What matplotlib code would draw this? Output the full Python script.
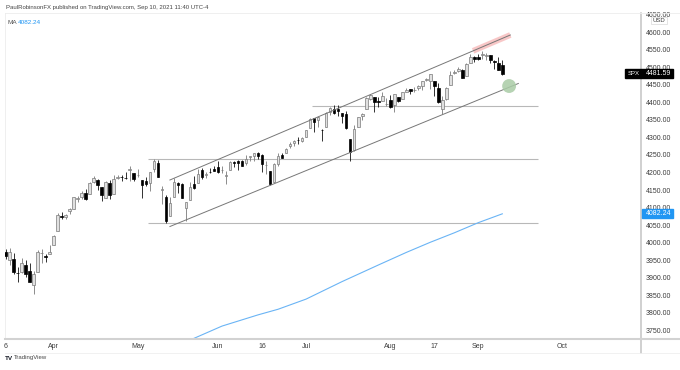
import numpy as np
import pandas as pd
import matplotlib
matplotlib.use("Agg")
import matplotlib.pyplot as plt
import matplotlib.transforms as mtransforms
from matplotlib.patches import Rectangle

plt.rcParams['font.family'] = ['Liberation Sans', 'DejaVu Sans']

# daily sessions, Mar 16 - Sep 10 2021 (market holidays skipped)
holidays = ['2021-04-02', '2021-05-31', '2021-07-05', '2021-09-06']
all_days = pd.bdate_range('2021-03-16', '2021-10-29', freq='C', holidays=holidays)

# SPX daily OHLC
opens = [3973.59, 3949.57, 3953.50, 3913.14, 3916.48, 3937.60, 3919.93, 3879.34, 3917.12, 3969.31, 3963.34, 3967.25,
         3992.78, 4034.44, 4075.57, 4074.29, 4089.95, 4096.11, 4124.71, 4130.10, 4141.58, 4139.76, 4174.14, 4179.80,
         4159.18, 4128.42, 4170.46, 4138.78, 4185.03, 4188.25, 4185.14, 4206.14, 4198.10,
         4191.98, 4179.04, 4177.06, 4169.14, 4210.34, 4228.29, 4150.34, 4130.55, 4074.99, 4129.58, 4169.92, 4165.94,
         4098.45, 4121.97, 4168.61, 4170.16, 4205.94, 4191.59, 4201.94, 4210.77,
         4216.52, 4206.82, 4191.43, 4206.05, 4229.34, 4233.81, 4232.99, 4228.56, 4242.90, 4248.31, 4255.28, 4248.87,
         4220.37, 4204.78, 4173.40, 4224.61, 4249.27, 4256.97, 4274.45, 4284.90, 4293.21, 4290.65,
         4300.73, 4326.60, 4356.46, 4351.01, 4321.07, 4329.38, 4372.41, 4381.07, 4380.11, 4369.02, 4367.43, 4296.40,
         4265.11, 4331.13, 4361.27, 4381.20, 4409.58, 4416.38, 4402.95, 4403.59, 4395.12,
         4406.86, 4392.74, 4415.95, 4408.86, 4429.07, 4437.77, 4435.79, 4442.18, 4446.08, 4464.84, 4461.65, 4462.12,
         4440.94, 4382.44, 4410.56, 4450.29, 4484.40, 4490.45, 4493.75, 4474.10, 4513.76, 4529.75,
         4528.80, 4534.48, 4532.42, 4535.38, 4518.09, 4513.02, 4506.92]
highs = [3981.04, 3983.87, 3969.62, 3930.12, 3955.31, 3949.13, 3942.08, 3919.54, 3978.19, 3981.83, 3968.01, 3994.41,
         4020.63, 4083.42, 4086.23, 4083.13, 4098.19, 4129.48, 4131.76, 4148.00, 4151.69, 4173.49, 4191.31, 4180.81,
         4159.18, 4175.02, 4179.57, 4194.17, 4194.19, 4193.35, 4201.53, 4218.78, 4198.10,
         4209.39, 4179.04, 4187.72, 4202.70, 4238.04, 4236.39, 4162.04, 4134.73, 4131.58, 4183.13, 4171.92, 4169.15,
         4116.93, 4172.80, 4188.72, 4209.52, 4213.42, 4202.61, 4213.38, 4218.36,
         4234.12, 4217.37, 4204.39, 4233.45, 4232.34, 4236.74, 4237.09, 4249.74, 4248.38, 4255.59, 4257.16, 4251.89,
         4232.29, 4204.78, 4226.24, 4255.84, 4256.60, 4271.28, 4286.12, 4292.14, 4300.52, 4302.43,
         4320.66, 4355.43, 4356.46, 4361.88, 4324.81, 4371.60, 4386.68, 4392.37, 4393.68, 4369.02, 4375.09, 4296.40,
         4336.84, 4359.70, 4369.87, 4415.18, 4422.73, 4416.38, 4415.47, 4429.97, 4412.25,
         4422.18, 4423.79, 4416.17, 4429.76, 4440.82, 4439.39, 4445.21, 4449.44, 4461.77, 4468.37, 4480.26, 4462.12,
         4454.32, 4418.61, 4444.35, 4489.88, 4492.81, 4501.71, 4495.90, 4513.33, 4537.36, 4531.39,
         4537.11, 4545.85, 4541.45, 4535.38, 4521.79, 4529.90, 4520.47]
lows = [3953.44, 3935.74, 3910.86, 3886.75, 3914.16, 3901.57, 3888.96, 3853.50, 3917.12, 3943.25, 3944.35, 3966.98,
        3992.78, 4034.44, 4068.14, 4068.31, 4082.54, 4095.51, 4114.82, 4124.43, 4120.87, 4139.76, 4170.75, 4150.47,
        4118.38, 4126.35, 4123.69, 4138.78, 4182.36, 4176.22, 4181.78, 4176.81, 4174.85,
        4188.03, 4128.59, 4160.94, 4147.33, 4201.64, 4188.13, 4111.53, 4056.88, 4074.99, 4129.58, 4142.69, 4125.99,
        4061.41, 4121.97, 4151.72, 4170.16, 4182.52, 4184.11, 4197.78, 4203.57,
        4197.59, 4198.27, 4167.93, 4206.05, 4215.66, 4208.41, 4218.74, 4220.34, 4232.25, 4234.07, 4238.35, 4202.45,
        4196.05, 4164.40, 4173.40, 4217.27, 4241.43, 4256.97, 4271.16, 4274.67, 4282.04, 4287.96,
        4300.73, 4326.60, 4314.37, 4329.79, 4289.52, 4329.38, 4364.03, 4366.92, 4362.36, 4340.70, 4323.97, 4233.13,
        4262.05, 4331.13, 4350.06, 4381.20, 4405.45, 4372.51, 4387.01, 4403.59, 4389.65,
        4384.81, 4373.00, 4400.23, 4408.86, 4429.07, 4424.74, 4430.03, 4436.42, 4435.96, 4460.82, 4437.66, 4417.83,
        4397.59, 4367.73, 4406.80, 4450.29, 4482.28, 4485.66, 4468.99, 4474.10, 4513.76, 4515.80,
        4522.02, 4524.66, 4521.65, 4513.00, 4493.95, 4492.07, 4479.50]
closes = [3962.71, 3974.12, 3915.46, 3913.10, 3940.59, 3910.52, 3889.14, 3909.52, 3974.54, 3971.09, 3958.55, 3972.89,
          4019.87, 4077.91, 4073.94, 4079.95, 4097.17, 4128.80, 4127.99, 4141.59, 4124.66, 4170.42, 4185.47, 4163.26,
          4134.94, 4173.42, 4134.98, 4180.17, 4187.62, 4186.72, 4183.18, 4211.47, 4181.17,
          4192.66, 4164.66, 4167.59, 4201.62, 4232.60, 4188.43, 4152.10, 4063.04, 4112.50, 4173.85, 4163.29, 4127.83,
          4115.68, 4159.12, 4155.86, 4197.05, 4188.13, 4195.99, 4200.88, 4204.11,
          4202.04, 4208.12, 4192.85, 4229.89, 4226.52, 4227.26, 4219.55, 4239.18, 4247.44, 4255.15, 4246.59, 4223.70,
          4221.86, 4166.45, 4224.79, 4246.44, 4241.84, 4266.49, 4280.70, 4290.61, 4291.80, 4297.50,
          4319.94, 4352.34, 4343.54, 4358.13, 4320.82, 4369.55, 4384.63, 4369.21, 4374.30, 4360.03, 4327.16, 4258.49,
          4323.06, 4358.69, 4367.48, 4411.79, 4422.30, 4401.46, 4400.64, 4419.15, 4395.26,
          4387.16, 4423.15, 4402.66, 4429.10, 4436.52, 4432.35, 4436.75, 4447.70, 4460.83, 4468.00, 4479.71, 4448.08,
          4400.27, 4405.80, 4441.67, 4479.53, 4486.23, 4496.19, 4470.00, 4509.37, 4528.79, 4522.68,
          4524.09, 4536.95, 4535.43, 4520.03, 4514.07, 4493.28, 4481.59]

# moving average (session date -> value)
ma_dates = ['2021-05-12', '2021-05-21', '2021-06-02', '2021-06-15', '2021-06-22', '2021-07-01', '2021-07-15',
            '2021-07-28', '2021-08-06', '2021-08-16', '2021-08-24', '2021-09-01', '2021-09-10']
ma_values = [3698, 3727, 3762, 3794, 3810, 3839, 3889, 3936, 3972, 4001, 4028, 4057, 4082.24]

# drawn levels / channel (date, price)
h_levels = [4390, 4239, 4055]
h_starts = ['2021-07-02', '2021-05-05', '2021-05-05']
h_end = '2021-09-23'
chan_upper = [('2021-05-13', 4178.7), ('2021-09-14', 4592.3)]
chan_lower = [('2021-05-13', 4046.0), ('2021-09-16', 4454.0)]

tick_dates = ['2021-03-16', '2021-04-01', '2021-05-03', '2021-06-01', '2021-06-16', '2021-07-01',
              '2021-08-02', '2021-08-17', '2021-09-01', '2021-10-01']
tick_labels = ['6', 'Apr', 'May', 'Jun', '16', 'Jul', 'Aug', '17', 'Sep', 'Oct']
price_ticks = list(range(3750, 4651, 50))

pos = {d.strftime('%Y-%m-%d'): i for i, d in enumerate(all_days)}

o = np.array(opens)
h = np.array(highs)
l = np.array(lows)
c = np.array(closes)
x = np.arange(len(c))
up = c >= o

W, H = 680, 370
fig = plt.figure(figsize=(W / 100, H / 100), dpi=100)
ax = fig.add_axes([5 / W, 1 - 339 / H, (641 - 5) / W, (339 - 13) / H])

# candles
wick_col = np.where(up, '#7a7a7a', '#111111')
ax.vlines(x, l, h, colors=wick_col, lw=0.6, zorder=2)
body_h = np.maximum(np.abs(c - o), 0.9)
ax.bar(x, body_h, bottom=np.minimum(o, c), width=0.68,
       color=np.where(up, '#e0e0e0', '#000000'),
       edgecolor=np.where(up, '#7a7a7a', '#000000'), linewidth=0.5, zorder=3)

# moving average
ax.plot([pos[d] for d in ma_dates], ma_values, color='#6ab4f5', lw=0.8, zorder=2)

# horizontal levels
for lev, st in zip(h_levels, h_starts):
    ax.hlines(lev, pos[st] + 0.5, pos[h_end], color='#b8b8b8', lw=0.8, zorder=1)

# channel
ux = [pos[d] for d, _ in chan_upper]
uy = [p for _, p in chan_upper]
lx = [pos[d] for d, _ in chan_lower]
ly = [p for _, p in chan_lower]
ax.plot(ux, uy, color='#777777', lw=0.7, zorder=4)
ax.plot(lx, ly, color='#777777', lw=0.7, zorder=4)

# highlight on upper channel + circle on lower channel
slope = (uy[1] - uy[0]) / (ux[1] - ux[0])
bx = np.array([pos['2021-08-30'] + 0.7, ux[1]])
ax.plot(bx, uy[0] + (bx - ux[0]) * slope, color='#f4a3a3', alpha=0.6, lw=4.2,
        solid_capstyle='butt', zorder=3)
ax.scatter([pos['2021-09-14'] - 0.3], [4446.7], s=100, color='#a9cca6', alpha=0.85,
           edgecolors='none', zorder=5)

ax.set_xlim((5 - 5.7) / 4.005, (641 - 5.7) / 4.005)
ax.set_ylim(3725.2, 4655)

ax.set_xticks([pos[d] for d in tick_dates])
ax.set_xticklabels(tick_labels)
ax.yaxis.tick_right()
ax.set_yticks(price_ticks)
ax.set_yticklabels([f'{p:.2f}' for p in price_ticks])
ax.tick_params(axis='y', length=0, pad=3.6, labelsize=5, labelcolor='#3c3c3c')
ax.tick_params(axis='x', length=0, pad=3.2, labelsize=5, labelcolor='#3c3c3c')

for s in ['top', 'left']:
    ax.spines[s].set_color('#ececec')
    ax.spines[s].set_linewidth(0.6)
ax.spines['bottom'].set_color('#d2d2d2')
ax.spines['bottom'].set_linewidth(1.5)
ax.spines['right'].set_color('#c4c4c4')
ax.spines['right'].set_linewidth(1.1)

# frame bits below / right of the pane
fig.add_artist(plt.Line2D([641 / W, 641 / W], [1 - 353 / H, 1 - 339 / H], color='#c4c4c4', lw=1.1))
fig.add_artist(plt.Line2D([641 / W, 1], [1 - 339 / H, 1 - 339 / H], color='#d2d2d2', lw=1.5))
fig.add_artist(plt.Line2D([5 / W, 1], [1 - 353 / H, 1 - 353 / H], color='#efefef', lw=0.6))
fig.add_artist(plt.Line2D([641 / W, 1], [1 - 13 / H, 1 - 13 / H], color='#ececec', lw=0.6))

# price labels on the axis
tr = mtransforms.blended_transform_factory(fig.transFigure, ax.transData)
ppx = 1 / 0.3506
ax.add_patch(Rectangle((625 / W, closes[-1] - 4.5 * ppx), 48 / W, 9 * ppx, transform=tr,
                       color='#000000', clip_on=False, zorder=10))
ax.text(628 / W, closes[-1], 'SPX', transform=tr, color='white', fontsize=4.3,
        va='center', ha='left', zorder=11, clip_on=False)
ax.text(671 / W, closes[-1], f'{closes[-1]:.2f}', transform=tr, color='white', fontsize=5,
        va='center', ha='right', zorder=11, clip_on=False)
ax.add_patch(Rectangle((642 / W, ma_values[-1] - 4.5 * ppx), 31 / W, 9 * ppx, transform=tr,
                       color='#2196f3', clip_on=False, zorder=10))
ax.text(671 / W, ma_values[-1], f'{ma_values[-1]:.2f}', transform=tr, color='white', fontsize=5,
        va='center', ha='right', zorder=11, clip_on=False)
ax.add_patch(Rectangle((651 / W, 4600 + (32.3 - 24.5) * ppx), 16 / W, 7 * ppx, transform=tr,
                       facecolor='white', edgecolor='#d0d0d0', lw=0.4, clip_on=False, zorder=10))
ax.text(659 / W, 4600 + (32.3 - 21) * ppx, 'USD', transform=tr, color='#3c3c3c', fontsize=4.3,
        va='center', ha='center', zorder=11, clip_on=False)

# header / legend / footer
fig.text(6 / W, 1 - 7.3 / H, 'PaulRobinsonFX published on TradingView.com, Sep 10, 2021 11:40 UTC-4',
         fontsize=4.3, color='#444444', va='center', ha='left')
fig.text(8 / W, 1 - 22.3 / H, 'MA', fontsize=4.6, color='#555555', va='center', ha='left')
fig.text(18 / W, 1 - 22.3 / H, f'{ma_values[-1]:.2f}', fontsize=4.6, color='#2196f3', va='center', ha='left')
fig.text(5 / W, 1 - 358 / H, 'TV', fontsize=4.6, color='#131722', fontweight='bold', va='center', ha='left')
fig.text(14 / W, 1 - 358 / H, 'TradingView', fontsize=4.3, color='#444444', va='center', ha='left')

fig.savefig('out.png', dpi=100)
